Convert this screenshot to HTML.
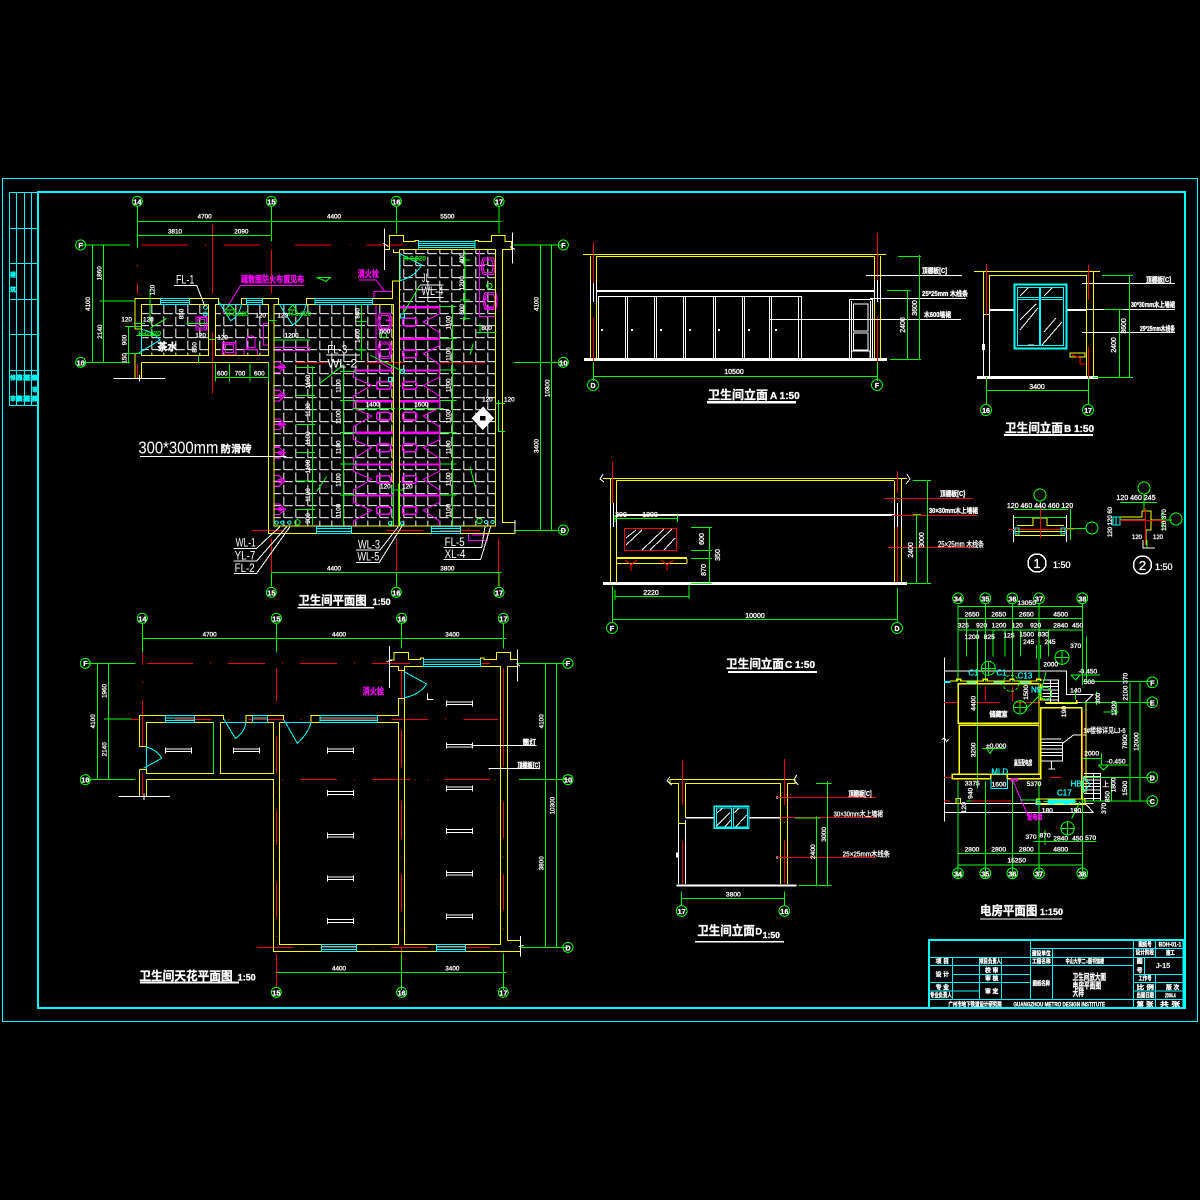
<!DOCTYPE html>
<html><head><meta charset="utf-8"><title>卫生间平面图</title>
<style>
html,body{margin:0;padding:0;background:#000}
svg{display:block}
text{font-family:"Liberation Sans","Noto Sans CJK SC",sans-serif;fill:#fff;stroke:#fff;stroke-width:.3}
.z text{stroke-width:.9}
.b{font-weight:bold}
.m{text-anchor:middle}
text.c{fill:#0ff;stroke:#0ff}
text.p{fill:#f0f;stroke:#f0f}
text.g{fill:#0f0;stroke:#0f0}
text.n{stroke:none}
</style></head><body>
<svg xmlns="http://www.w3.org/2000/svg" width="1200" height="1200" viewBox="0 0 1200 1200" fill="none" shape-rendering="crispEdges">
<defs>
<pattern id="tile" patternUnits="userSpaceOnUse" x="28" y="20" width="36" height="36"><path d="M1.500 0V27M1.500 27H28" stroke="#fff" stroke-width="2.800" fill="none"/></pattern>
<g id="stR" stroke="#f0f" stroke-width="3"><path d="M0 1.500H122" stroke-width="7"/><path d="M120 5V22L72 46 120 78V95"/><rect x="10" y="35" width="42" height="23" rx="8" stroke-width="5"/></g>
<g id="stL" stroke="#f0f" stroke-width="3"><path d="M0 1.500H121" stroke-width="7"/><path d="M1 5V22L55 46 1 78V95"/><rect x="70" y="35" width="42" height="23" rx="8" stroke-width="5"/></g>
<g id="uri" stroke="#f0f" stroke-width="3.500"><path d="M0 -16H16L26 -6Q36 0 26 6L16 16H0V-16ZM0 0H36"/><circle cx="18" cy="0" r="5"/></g>
<g id="sink" stroke="#f0f" stroke-width="3.500"><path d="M-20 -24H12Q22 0 12 26H-20Q-28 0 -20 -24Z"/><path d="M-14 -18H8Q16 0 8 20H-14Q-22 0 -14 -18ZM0 -4H16"/></g>
<g id="lt" stroke="#fff" stroke-width="3"><path d="M0 -9V9M78 -9V9M0 -4H78M0 4H78"/></g>
</defs>
<rect width="1200" height="1200" fill="#000"/>
<!-- frames -->
<rect x="2.500" y="178.500" width="1195" height="843" stroke="#0ff"/>
<rect x="38" y="192" width="1147" height="816" stroke="#0ff" stroke-width="2"/>
<path d="M9.500 192.500V405.500H38M16.500 192.500V405.500M24.500 192.500V405.500M31.500 192.500V405.500M9 192.500H38M9 228.500H38M9 263.500H38M9 299.500H38M9 334.500H38M9 370.500H38" stroke="#0ff"/>
<text x="10" y="277" font-size="6" class="c b">建</text><text x="10" y="292" font-size="6" class="c b">筑</text>
<text x="10" y="380" font-size="6" class="c b">修改</text><text x="10" y="401" font-size="6" class="c b">审核</text>
<text x="17" y="380" font-size="6" class="c b">日期</text><text x="17" y="401" font-size="6" class="c b">日期</text>
<text x="25" y="380" font-size="6" class="c b">签名</text><text x="25" y="401" font-size="6" class="c b">签名</text>
<text x="32" y="380" font-size="6" class="c b">修</text><text x="32" y="392" font-size="6" class="c b">审</text><text x="32" y="401" font-size="6" class="c b">核</text>

<!-- PLAN 1 -->
<g class="z" transform="translate(70,190) scale(.33333)" stroke-width="3">
<rect x="214" y="343" width="202" height="153" fill="url(#tile)"/>
<rect x="437" y="343" width="159" height="153" fill="url(#tile)"/>
<rect x="612" y="343" width="359" height="665" fill="url(#tile)"/>
<rect x="988" y="178" width="289" height="830" fill="url(#tile)"/>
<!-- red -->
<path stroke="#f00" d="M215 165H354M405 165H410M460 165H570M603 165H606M675 165H785M838 165H841M890 165H1000M676 517H770M890 517H1005M1110 517H1245M546 1022H645M950 1022H1058M1110 1022H1230M604 180V310M427 105V310M427 430V610M202 150V172M202 225V230M202 280V312M202 520V565M979 1045V1145M1285 1045V1190M604 1045V1190"/>
<!-- magenta -->
<use href="#stR" x="988" y="350"/><use href="#stR" x="988" y="445"/><use href="#stR" x="988" y="540"/><use href="#stR" x="988" y="632"/><use href="#stR" x="988" y="727"/><use href="#stR" x="988" y="822"/><use href="#stR" x="988" y="915"/>
<use href="#stL" x="850" y="540"/><use href="#stL" x="850" y="632"/><use href="#stL" x="850" y="727"/><use href="#stL" x="850" y="822"/><use href="#stL" x="850" y="915"/>
<use href="#uri" x="612" y="532"/><use href="#uri" x="612" y="617"/><use href="#uri" x="612" y="703"/><use href="#uri" x="612" y="788"/><use href="#uri" x="612" y="873"/><use href="#uri" x="612" y="958"/>
<g stroke="#f0f"><path d="M1228 178V380H1277M918 343H971M918 343V510L971 540"/>
<use href="#sink" x="1253" y="228" transform="translate(2504,0) scale(-1,1)"/>
<use href="#sink" x="1253" y="332" transform="translate(2510,0) scale(-1,1)"/>
<use href="#sink" x="948" y="395"/><use href="#sink" x="948" y="480"/>
<rect x="378" y="382" width="32" height="38" stroke-width="4"/><rect x="384" y="388" width="20" height="26"/>
<rect x="458" y="458" width="40" height="38" stroke-width="4"/><rect x="466" y="464" width="24" height="24"/>
<path d="M530 470V445Q545 430 555 445V472H530ZM522 478H563V496H522ZM580 400H596V465H580ZM612 472H718V482H612ZM912 305H968V325H912ZM1195 1030H1252V1052H1195ZM1205 1035H1245"/>
<path d="M460 370L512 286H704M865 270H918L945 305"/></g>
<text x="513" y="277" font-size="27" class="p b" textLength="190" lengthAdjust="spacingAndGlyphs">疏散图防火布置见布</text>
<text x="863" y="261" font-size="28" class="p b" textLength="64" lengthAdjust="spacingAndGlyphs">消火栓</text>
<!-- yellow walls -->
<path stroke="#ff0" d="M195 417V325H272V343H358V325H446V343M514 343V325H626V343M709 343V325H968V273H988V178M945 178H958V155H958V137H1000V155H1035V152H1045V178H1215V152H1225V155H1265V137H1305V155H1325V178H1298V997H1335M988 178H1277V1008H612V343H971V1008M988 178V1008M214 343H416V496H214ZM437 343H596V496H437ZM214 420V343M214 517H596M596 517V1030H1335M214 517V565M195 490V565M195 417H214M195 490H214M970 178V188H988"/>
<!-- cyan -->
<g stroke="#0ff">
<path d="M272 325H358M272 331H358M272 337H358M272 343H358M272 325V343M358 325V343"/>
<path d="M530 325H578M530 331H578M530 337H578M530 343H578M530 325V343M578 325V343"/>
<path d="M735 325H908M735 331H908M735 337H908M735 343H908M735 325V343M908 325V343"/>
<path d="M1045 155H1215M1045 161H1215M1045 167H1215M1045 173H1215M1045 155V178M1215 155V178"/>
<path d="M740 1010H845M740 1016H845M740 1024H845M740 1030H845M740 1010V1030M845 1010V1030"/>
<path d="M1085 1010H1172M1085 1016H1172M1085 1024H1172M1085 1030H1172M1085 1010V1030M1172 1010V1030"/>
<path d="M446 335L482 392Q505 380 515 343H446"/>
<path d="M628 343L668 405Q695 390 709 343H628"/>
<path d="M205 490L270 450Q250 425 214 418V490"/>
<path d="M988 190L1055 225Q1035 260 990 272V190"/>
<circle cx="620" cy="998" r="5"/><circle cx="637" cy="998" r="5"/><circle cx="658" cy="998" r="5"/><circle cx="960" cy="1000" r="5"/><circle cx="996" cy="1000" r="5"/><circle cx="1248" cy="996" r="5"/><circle cx="1268" cy="996" r="5"/><rect x="992" y="372" width="12" height="12"/><rect x="992" y="538" width="12" height="12"/><rect x="955" y="562" width="12" height="12"/><circle cx="406" cy="352" r="6"/><circle cx="406" cy="372" r="6"/>
</g>
<!-- green dims -->
<path stroke="#0f0" d="M202 50V172M604 50V155M979 50V130M1287 50V130M202 94H1295M202 136H604M34 165H180M34 517H180M68 165V517M100 165V517M88 333H195M1330 165H1480M1330 517H1480M1330 1022H1480M1412 165V1022M1445 165V1022M604 1147H1295M979 1147V1190M1287 1147V1190M604 1147V1190
M175 410V520M165 410H215M165 490H215M192 400H225M240 300V400M350 400H415M385 497V520M415 448H437M437 563H596M437 520V575M478 520V575M540 520V575M596 520V575M596 392H620M612 450H720
M727 530V1005M680 532H735M680 617H735M680 703H735M680 788H735M680 873H735M680 958H735M820 540V1005M810 545H860M810 632H860M810 727H860M810 822H860M810 915H860M875 343V510M860 395H890M860 480H890M848 655H975M985 655H1120M1147 345V1005M1110 350H1160M1110 445H1160M1110 540H1160M1110 632H1160M1110 727H1160M1110 822H1160M1110 915H1160M1185 185V390M1170 210H1200M1170 330H1200M1170 385H1200M1230 400V430M1220 427H1280M1285 630V725M1275 640H1305M1285 725H1305M964 900H1000M970 880V1005M985 880V1005M1050 285L1000 370M900 495L1000 545M820 525L750 580M1200 830L1215 890M1210 460L1200 495M770 860L740 905M290 385L240 415M200 437H270M1000 205H1048"/>
<g stroke="#0f0"><circle cx="202" cy="34" r="15"/><circle cx="604" cy="34" r="15"/><circle cx="979" cy="34" r="15"/><circle cx="1287" cy="34" r="15"/><circle cx="32" cy="165" r="15"/><circle cx="32" cy="517" r="15"/><circle cx="1480" cy="165" r="15"/><circle cx="1480" cy="517" r="15"/><circle cx="1480" cy="1020" r="15"/><circle cx="604" cy="1207" r="15"/><circle cx="979" cy="1207" r="15"/><circle cx="1287" cy="1207" r="15"/><circle cx="682" cy="997" r="8"/><circle cx="1228" cy="993" r="8"/><circle cx="942" cy="436" r="8"/><circle cx="1258" cy="288" r="8"/></g>
<path stroke="#fff" d="M943 115V240M1327 127V220M130 565H285M208 555V575M940 160L955 170M1320 170L1335 178M1335 990V1030"/>
<path d="M1240 650L1272 685 1238 720 1205 685Z" fill="#fff"/>
<path d="M1230 678H1246V692H1230Z" fill="#000"/>
<!-- labels -->
<g font-size="22" class="b">
<text x="202" y="43" class="m">14</text><text x="604" y="43" class="m">15</text><text x="979" y="43" class="m">16</text><text x="1287" y="43" class="m">17</text>
<text x="32" y="174" class="m">F</text><text x="32" y="526" class="m">10</text><text x="1480" y="174" class="m">F</text><text x="1480" y="526" class="m">10</text><text x="1480" y="1029" class="m">D</text>
<text x="604" y="1216" class="m">15</text><text x="979" y="1216" class="m">16</text><text x="1287" y="1216" class="m">17</text>
</g>
<g font-size="19" class="m">
<text x="404" y="86">4700</text><text x="792" y="86">4400</text><text x="1132" y="86">5500</text><text x="315" y="130">3810</text><text x="514" y="130">2090</text>
<text x="792" y="1141">4400</text><text x="1132" y="1141">3800</text><text x="457" y="557">600</text><text x="510" y="557">700</text><text x="568" y="557">600</text>
<text x="170" y="395">120</text><text x="235" y="395">120</text><text x="392" y="442">120</text><text x="458" y="448">120</text><text x="572" y="382">120</text><text x="638" y="382">120</text><text x="665" y="442">1200</text>
<text x="908" y="650">1400</text><text x="1054" y="650">1600</text><text x="946" y="895">120</text><text x="1012" y="895">120</text><text x="1252" y="635">120</text><text x="1318" y="635">120</text><text x="945" y="430">500</text><text x="1250" y="420">800</text>
</g>
<g font-size="19" class="m">
<text transform="translate(94,250) rotate(-90)">1860</text><text transform="translate(60,342) rotate(-90)">4100</text><text transform="translate(96,425) rotate(-90)">2140</text><text transform="translate(170,450) rotate(-90)">900</text><text transform="translate(170,505) rotate(-90)">150</text><text transform="translate(254,300) rotate(-90)">120</text><text transform="translate(340,372) rotate(-90)">850</text><text transform="translate(380,472) rotate(-90)">850</text>
<text transform="translate(1406,342) rotate(-90)">4100</text><text transform="translate(1406,768) rotate(-90)">3400</text><text transform="translate(1438,595) rotate(-90)">10300</text>
<text transform="translate(720,575) rotate(-90)">1100</text><text transform="translate(720,660) rotate(-90)">1100</text><text transform="translate(720,745) rotate(-90)">1100</text><text transform="translate(720,830) rotate(-90)">1100</text><text transform="translate(720,915) rotate(-90)">1100</text><text transform="translate(720,985) rotate(-90)">900</text>
<text transform="translate(812,588) rotate(-90)">1100</text><text transform="translate(812,682) rotate(-90)">1100</text><text transform="translate(812,772) rotate(-90)">1100</text><text transform="translate(812,870) rotate(-90)">1100</text><text transform="translate(812,962) rotate(-90)">1100</text><text transform="translate(868,370) rotate(-90)">800</text><text transform="translate(868,438) rotate(-90)">1400</text>
<text transform="translate(1142,398) rotate(-90)">1100</text><text transform="translate(1142,492) rotate(-90)">1100</text><text transform="translate(1142,586) rotate(-90)">1100</text><text transform="translate(1142,680) rotate(-90)">1100</text><text transform="translate(1142,772) rotate(-90)">1100</text><text transform="translate(1142,868) rotate(-90)">1100</text><text transform="translate(1142,962) rotate(-90)">1100</text>
<text transform="translate(1182,205) rotate(-90)">400</text><text transform="translate(1182,280) rotate(-90)">1200</text><text transform="translate(1182,358) rotate(-90)">800</text>
</g>
<text x="205" y="790" font-size="52" class="n" textLength="240" lengthAdjust="spacingAndGlyphs">300*300mm</text>
<text x="452" y="787" font-size="31" class="b">防滑砖</text>
<path stroke="#fff" d="M210 799H650"/>
<g font-size="36">
<text x="318" y="280" class="n" textLength="55" lengthAdjust="spacingAndGlyphs">FL-1</text>
<text x="772" y="490" class="n" textLength="60" lengthAdjust="spacingAndGlyphs">FL-3</text>
<text x="772" y="532" class="n" textLength="90" lengthAdjust="spacingAndGlyphs">WL-2</text>
<text x="1056" y="276" class="n" textLength="22" lengthAdjust="spacingAndGlyphs">JL</text>
<text x="1054" y="315" class="n" textLength="66" lengthAdjust="spacingAndGlyphs">WL-4</text>
<text x="497" y="1070" class="n" textLength="60" lengthAdjust="spacingAndGlyphs">WL-1</text>
<text x="494" y="1108" class="n" textLength="62" lengthAdjust="spacingAndGlyphs">YL-7</text>
<text x="494" y="1146" class="n" textLength="60" lengthAdjust="spacingAndGlyphs">FL-2</text>
<text x="864" y="1075" class="n" textLength="66" lengthAdjust="spacingAndGlyphs">WL-3</text>
<text x="862" y="1112" class="n" textLength="66" lengthAdjust="spacingAndGlyphs">WL-5</text>
<text x="1124" y="1068" class="n" textLength="60" lengthAdjust="spacingAndGlyphs">FL-5</text>
<text x="1124" y="1104" class="n" textLength="62" lengthAdjust="spacingAndGlyphs">XL-4</text>
</g>
<path stroke="#fff" d="M312 286H380L405 350M768 495H870M1050 285H1120M1045 322H1120M490 1075H560L630 1010M490 1113H560L650 1010M492 1150H560L660 1010M858 1080H930L985 1010M858 1117H928L995 1010M1120 1072H1235L1245 1010M1120 1108H1232L1262 1010"/>
<text x="262" y="482" font-size="30" class="b">茶水</text>
<text x="205" y="437" font-size="19" class="g">H-0.020</text>
<text x="655" y="378" font-size="19" class="g">H-0.020</text>
<text x="468" y="378" font-size="19" class="g">H-0.020</text>
<text x="1000" y="212" font-size="19" class="g">H-0.020</text>
<path stroke="#0f0" d="M740 262H782L768 274ZM465 360H495L480 345ZM655 360H680L668 345Z"/>
<text x="685" y="1243" font-size="36" class="b" textLength="205" lengthAdjust="spacingAndGlyphs">卫生间平面图</text>
<text x="908" y="1245" font-size="27" class="b">1:50</text>
<path stroke="#fff" stroke-width="5" d="M683 1253H912"/>
</g>

<!-- CEILING -->
<g class="z" transform="translate(70,600) scale(.33333)" stroke-width="3">
<path stroke="#f00" d="M231 190H369M420 190H423M474 190H585M636 190H639M690 190H801M852 190H855M906 190H1020M1235 190H1260M183 358H205M262 358H265M315 358H425M475 358H478M535 358H640M692 358H695M750 358H925M965 358H1074M1125 358H1128M1180 358H1284M636 538H639M690 538H801M852 538H855M906 538H1020M1072 538H1075M1125 538H1260M561 1042H670M694 1042H697M748 1042H860M908 1042H911M963 1042H1074M1100 1042H1260M217 160V195M217 245V249M217 303V440M217 520V585M619 205V305M619 410V520M619 574V577M619 628V735M619 790V792M619 845V955M619 1008V1011M619 1062V1160M995 205V295M995 390V500M995 550V552M995 605V716M995 770V772M995 822V932M995 985V988M995 1040V1160M1300 205V500M1300 605V716M1300 770V772M1300 822V932M1300 985V988"/>
<path stroke="#ff0" d="M229 440V367H431M229 440H208V346H286M373 346H460V360M373 346V367M431 367V520H229V440M451 367V520H611V367H451M528 367V346H640V360M528 346V367M629 367H986V1033H629V367M723 367V346H986V295H1003V215M1003 200H1292V1033H1003V200M959 180H972V157H1016V178H1052V174H1060V200M1232 200V174H1242V178H1280V157H1322V178H1342M959 200H985V212H1003M1312 1021H1352M1312 200H1342M1312 200V1021M208 508V590M208 508H229V520M229 538H611V1054H1352M229 538V590"/>
<path stroke="#0f0" d="M431 367V520M217 70V158M619 70V158M995 70V145M1300 70V145M217 115H1310M46 190H195M46 538H195M82 190V538M115 190V538M102 357H185M1340 190H1494M1347 538H1494M1350 1042H1494M1427 190V1042M1460 190V1042M619 1117H1310M995 1060V1170M1300 1060V1170"/>
<g stroke="#0ff">
<path d="M287 346H373M287 354H373M287 361H373M287 367H373M287 346V367M373 346V367M547 346H593M547 354H593M547 367H593M547 346V367M593 346V367"/>
<path d="M750 346H923M750 354H923M750 361H923M750 367H923M750 346V367M923 346V367"/>
<path d="M1060 178H1232M1060 186H1232M1060 193H1232M1060 200H1232M1060 178V200M1232 178V200"/>
<path d="M754 1033H860M754 1040H860M754 1048H860M754 1054H860M754 1033V1054M860 1033V1054M1099 1033H1187M1099 1040H1187M1099 1048H1187M1099 1054H1187M1099 1033V1054M1187 1033V1054"/>
<path d="M462 358L496 415Q522 400 528 367H462M642 360L682 430Q715 400 723 367H642M220 505L275 475Q262 450 229 441V505M1003 215L1070 252Q1048 285 1003 293V215"/>
</g>
<path stroke="#fff" d="M958 138V264M1342 148V245M145 589H300M222 580V600M950 185L968 180M1340 190L1350 198M1352 1008V1070M1347 1040L1360 1036M1205 436H1400M1255 506H1408M1258 504V508M1072 280V298H1090"/>
<use href="#lt" x="286" y="451"/><use href="#lt" x="490" y="451"/>
<use href="#lt" x="772" y="451"/><use href="#lt" x="772" y="579"/><use href="#lt" x="772" y="707"/><use href="#lt" x="772" y="835"/><use href="#lt" x="772" y="963"/>
<use href="#lt" x="1129" y="310"/><use href="#lt" x="1129" y="437"/><use href="#lt" x="1129" y="565"/><use href="#lt" x="1129" y="693"/><use href="#lt" x="1129" y="821"/><use href="#lt" x="1129" y="949"/>
<g stroke="#0f0"><circle cx="217" cy="55" r="15"/><circle cx="619" cy="55" r="15"/><circle cx="995" cy="55" r="15"/><circle cx="1300" cy="55" r="15"/><circle cx="46" cy="190" r="15"/><circle cx="46" cy="539" r="15"/><circle cx="1494" cy="190" r="15"/><circle cx="1494" cy="539" r="15"/><circle cx="1494" cy="1042" r="15"/><circle cx="619" cy="1177" r="15"/><circle cx="995" cy="1177" r="15"/><circle cx="1300" cy="1177" r="15"/></g>
<g font-size="22" class="b m">
<text x="217" y="64">14</text><text x="619" y="64">15</text><text x="995" y="64">16</text><text x="1300" y="64">17</text><text x="46" y="198">F</text><text x="46" y="548">10</text><text x="1494" y="198">F</text><text x="1494" y="548">10</text><text x="1494" y="1051">D</text><text x="619" y="1186">15</text><text x="995" y="1186">16</text><text x="1300" y="1186">17</text>
</g>
<g font-size="19" class="m">
<text x="419" y="110">4700</text><text x="807" y="110">4400</text><text x="1147" y="110">3400</text><text x="807" y="1112">4400</text><text x="1147" y="1112">3400</text>
<text transform="translate(109,273) rotate(-90)">1960</text><text transform="translate(75,364) rotate(-90)">4100</text><text transform="translate(109,448) rotate(-90)">2140</text><text transform="translate(1421,364) rotate(-90)">4100</text><text transform="translate(1421,790) rotate(-90)">3800</text><text transform="translate(1454,617) rotate(-90)">10300</text>
</g>
<text x="878" y="284" font-size="27" class="p b" textLength="64" lengthAdjust="spacingAndGlyphs">消火栓</text>
<text x="1358" y="434" font-size="21" class="b" textLength="40" lengthAdjust="spacingAndGlyphs">筒灯</text>
<text x="1342" y="503" font-size="21" class="b" textLength="68" lengthAdjust="spacingAndGlyphs">顶棚板[C]</text>
<text x="208" y="1140" font-size="36" class="b" textLength="280" lengthAdjust="spacingAndGlyphs">卫生间天花平面图</text>
<text x="503" y="1141" font-size="27" class="b">1:50</text>
<path stroke="#fff" stroke-width="6" d="M210 1148H507"/>
</g>

<!-- ELEVATION A -->
<g stroke-width="1">
<path stroke="#ff0" d="M583 254.500H886M596 256.500H874M590.500 256V280M596.500 256V280M590.500 302V358M596.500 302V358M874.500 256V280M880.500 256V280M874.500 302V358M880.500 302V358"/>
<path stroke="#fff" d="M590.500 280V302M593.500 280V302M596.500 280V302M874.500 280V302M877.500 280V302M880.500 280V302M598.500 296V359M625.500 296V359M627.500 296V359M654.500 296V359M656.500 296V359M683.500 296V359M685.500 296V359M713.500 296V359M715.500 296V359M742.500 296V359M744.500 296V359M769.500 296V359M771.500 296V359M798.500 296V359M801.500 296V359M598 296.500H801M849.500 299V359M872.500 299V359M851.500 301V359M870.500 301V359M849 299.500H872M853.500 304H868V331H853.500ZM853.500 333H868V350H853.500ZM851 351H870V359"/>
<rect x="584" y="358" width="303" height="3" fill="#fff"/>
<rect x="596" y="290" width="278" height="2" fill="#fff"/>
<path fill="#fff" d="M601 329h2v2h-2zM631 329h2v2h-2zM660 329h2v2h-2zM689 329h2v2h-2zM718 329h2v2h-2zM748 329h2v2h-2zM775 329h2v2h-2z"/>
<path stroke="#f00" d="M593.500 242V283M593.500 318V361M877.500 233V280M877.500 316V363"/>
<path stroke="#fff" d="M866 275.500H962M870 298.500H966M770 319.500H961"/>
<path stroke="#0f0" d="M593.500 362V381M877.500 362V381M593 376.500H878M898 256.500H921M887 290.500H910M890 359.500H921M919.500 255V360M907.500 290V360"/>
<circle cx="593" cy="385" r="5.500" stroke="#0f0"/><circle cx="877" cy="385" r="5.500" stroke="#0f0"/>
<text x="593" y="388" font-size="7" class="m b">D</text><text x="877" y="388" font-size="7" class="m b">F</text>
<text x="734" y="374" font-size="7" class="m">10500</text>
<text transform="translate(917,308) rotate(-90)" font-size="7" class="m">3600</text><text transform="translate(905,325) rotate(-90)" font-size="7" class="m">2400</text>
<text x="922" y="273" font-size="7" class="b" textLength="25" lengthAdjust="spacingAndGlyphs">顶棚板[C]</text>
<text x="922" y="296" font-size="7" class="b" textLength="46" lengthAdjust="spacingAndGlyphs">25*25mm 木线条</text>
<text x="924" y="317" font-size="7" class="b" textLength="27" lengthAdjust="spacingAndGlyphs">木600墙裙</text>
<text x="708" y="399" font-size="12" class="b" textLength="60" lengthAdjust="spacingAndGlyphs">卫生间立面</text><text x="770" y="399" font-size="10" class="b">A 1:50</text>
<rect x="707" y="401" width="89" height="2.500" fill="#fff"/>
</g>

<!-- ELEVATION B -->
<g stroke-width="1">
<path stroke="#ff0" d="M974 271.500H1100M989 275.500H1086M983.500 272V314M989.500 275V314M983 314.500H989M1086.500 275V377M1093.500 272V377"/>
<path stroke="#fff" d="M983.500 314V377M989.500 310V377M1082 283.500H1175M1082 309.500H1175M1082 332.500H1175"/>
<rect x="977" y="376" width="121" height="3" fill="#fff"/>
<rect x="989" y="309" width="25" height="2" fill="#fff"/><rect x="1067" y="309" width="19" height="2" fill="#fff"/>
<rect x="982" y="344" width="3" height="6" fill="#fff"/>
<g stroke="#0ff"><rect x="1014.500" y="284.500" width="52" height="64" stroke-width="2"/><rect x="1017.500" y="287.500" width="46" height="58"/><path d="M1040.500 287V346M1017 297.500H1064M1017 299.500H1064M1039.500 287V346"/></g>
<path stroke="#fff" d="M1020 296L1028 288M1044 296L1052 288M1020 330L1038 308M1020 320L1036 304M1042 345L1062 322M1044 332L1056 318M1028 345H1034"/>
<rect x="1070" y="353" width="15" height="4" stroke="#ff0"/>
<path stroke="#f00" d="M986.500 264V315M986.500 377V390M1088.500 265V300M1088.500 347V390M1072 355L1080 358V364H1085"/>
<path stroke="#0f0" d="M986.500 378V405M1088.500 378V405M986 390.500H1089M1102 275.500H1133M1104 309.500H1123M1093 377.500H1133M1129.500 275V378M1119.500 309V378"/>
<circle cx="986" cy="410" r="5.500" stroke="#0f0"/><circle cx="1088" cy="410" r="5.500" stroke="#0f0"/>
<text x="986" y="413" font-size="7" class="m b">16</text><text x="1088" y="413" font-size="7" class="m b">17</text>
<text x="1037" y="389" font-size="7" class="m">3400</text>
<text transform="translate(1126,326) rotate(-90)" font-size="7" class="m">3600</text><text transform="translate(1116,345) rotate(-90)" font-size="7" class="m">2400</text>
<text x="1146" y="282" font-size="7" class="b" textLength="25" lengthAdjust="spacingAndGlyphs">顶棚板[C]</text>
<text x="1131" y="307" font-size="7" class="b" textLength="44" lengthAdjust="spacingAndGlyphs">30*30mm木上墙裙</text>
<text x="1140" y="331" font-size="7" class="b" textLength="35" lengthAdjust="spacingAndGlyphs">25*25mm木线条</text>
<text x="1005" y="432" font-size="12" class="b" textLength="58" lengthAdjust="spacingAndGlyphs">卫生间立面</text><text x="1064" y="432" font-size="10" class="b">B 1:50</text>
<rect x="1004" y="434" width="89" height="2" fill="#fff"/>
</g>

<!-- ELEVATION C -->
<g stroke-width="1">
<path stroke="#ff0" d="M603 478.500H907M616 480.500H894M610.500 478V503M616.500 481V503M610.500 527V583M616.500 527V583M894.500 481V503M901.500 478V503M894.500 527V583M901.500 527V583"/>
<path stroke="#fff" d="M610.500 503V527M613.500 503V527M616.500 503V527M894.500 503V527M897.500 503V527M901.500 503V527M603 474L600 479 604 482M907 474L910 479 906 484"/>
<rect x="603" y="582" width="304" height="3" fill="#fff"/><rect x="616" y="514" width="278" height="2" fill="#fff"/>
<rect x="624.500" y="528.500" width="52" height="22" stroke="#f00"/>
<path stroke="#fff" d="M626 545L642 530M626 538L636 530M642 550L664 529M650 550L672 529M664 550L675 538"/>
<rect x="617" y="557" width="70" height="2" fill="#ff0"/><path stroke="#ff0" d="M617 563.500H687M687 559V563"/>
<path stroke="#f00" d="M625 560L631 565 637 560M631 565V571M661 560L667 565 673 560M667 565V571M612.500 462V503M897.500 471V493M897.500 527V582"/>
<path stroke="#f00" d="M885 498.500H973M892 515.500H977M888 547.500H974"/>
<path stroke="#0f0" d="M612.500 586V622M897.500 588V622M612 619.500H898M615 596.500H689M689 585V599M615 590V600M615 518.500H678M615 515V522M677.500 515V522M709.500 527V584M691 527.500H712M691 550.500H712M691 558.500H712M691 583.500H712M916.500 514V584M927.500 480V584M913 480.500H931M913 514.500H921M907 583.500H931"/>
<circle cx="612" cy="628" r="5.500" stroke="#0f0"/><circle cx="897" cy="628" r="5.500" stroke="#0f0"/>
<text x="612" y="631" font-size="7" class="m b">F</text><text x="897" y="631" font-size="7" class="m b">D</text>
<text x="755" y="618" font-size="7" class="m">10000</text><text x="651" y="595" font-size="7" class="m">2220</text><text x="650" y="517" font-size="7" class="m">1800</text><text x="621" y="517" font-size="7" class="m">300</text>
<text transform="translate(704,539) rotate(-90)" font-size="7" class="m">600</text><text transform="translate(720,555) rotate(-90)" font-size="7" class="m">350</text><text transform="translate(706,570) rotate(-90)" font-size="7" class="m">870</text>
<text transform="translate(924,540) rotate(-90)" font-size="7" class="m">3000</text><text transform="translate(913,550) rotate(-90)" font-size="7" class="m">2400</text>
<text x="940" y="496" font-size="7" class="b" textLength="25" lengthAdjust="spacingAndGlyphs">顶棚板[C]</text>
<text x="929" y="513" font-size="7" class="b" textLength="49" lengthAdjust="spacingAndGlyphs">30×30mm木上墙裙</text>
<text x="938" y="547" font-size="8" textLength="46" lengthAdjust="spacingAndGlyphs">25×25mm 木线条</text>
<text x="726" y="668" font-size="12" class="b" textLength="58" lengthAdjust="spacingAndGlyphs">卫生间立面</text><text x="785" y="668" font-size="10" class="b">C  1:50</text>
<rect x="728" y="671" width="89" height="2" fill="#fff"/>
</g>

<!-- DETAILS -->
<g stroke-width="1">
<path stroke="#ff0" d="M1015 531.500H1065M1015 535.500H1065M1017 525.500H1033V518H1047V525.500H1064"/>
<path stroke="#fff" d="M1013.500 515V542M1066.500 515V542"/>
<path stroke="#0f0" d="M1040.500 502V518M1014 509.500H1068M1014 517.500H1066M1070.500 509V540M1066 528.500H1086"/>
<path stroke="#f00" d="M1040.500 503V538M1009 529.500H1074"/>
<path stroke="#0ff" d="M1015 528h4v6h-4zM1061 528h4v6h-4z"/>
<circle cx="1040" cy="495" r="6" stroke="#0f0"/><circle cx="1092" cy="528" r="6" stroke="#0f0"/>
<text x="1040" y="508" font-size="7" class="m">120 460 440 460 120</text>
<circle cx="1037" cy="563" r="9" stroke="#fff" stroke-width="1.500"/><text x="1037" y="568" font-size="13" class="m">1</text><text x="1053" y="568" font-size="9">1:50</text>
<path stroke="#ff0" d="M1120 517H1142V511M1142 511H1151V530H1146V545M1151 520H1163M1146 520H1120"/>
<path stroke="#0ff" d="M1116 517h4v8h-4zM1113 517h3v8h-3z"/>
<path stroke="#0f0" d="M1144 494V510M1120 502.500H1157M1163 512V530M1163 520H1172M1147 540V548"/>
<path stroke="#f00" d="M1145.500 508V545M1120 520.500H1165"/>
<path stroke="#fff" d="M1143 540V548H1155"/>
<circle cx="1144" cy="488" r="6" stroke="#0f0"/><circle cx="1176" cy="519" r="6" stroke="#0f0"/>
<text x="1136" y="500" font-size="7" class="m">120 460 245</text>
<text x="1137" y="539" font-size="6" class="m">120</text><text x="1158" y="539" font-size="6" class="m">120</text>
<text transform="translate(1112,522) rotate(-90)" font-size="6" class="m">120 120 60</text>
<text transform="translate(1166,520) rotate(-90)" font-size="6" class="m">120 370</text>
<circle cx="1142.500" cy="565" r="9" stroke="#fff" stroke-width="1.500"/><text x="1142.500" y="570" font-size="13" class="m">2</text><text x="1155" y="570" font-size="9">1:50</text>
</g>

<!-- ELEVATION D -->
<g class="z" transform="translate(650,740) scale(.33333)" stroke-width="3">
<path stroke="#ff0" d="M60 118H435V130H413V432M60 118V130H85V250H106M106 130H392V432M106 130V232"/>
<path stroke="#fff" d="M85 250V432M106 240V432M60 110L52 122 65 135M440 105L432 120 445 135"/>
<rect x="80" y="433" width="360" height="7" fill="#fff"/>
<rect x="106" y="231" width="87" height="5" fill="#fff"/><rect x="296" y="231" width="96" height="5" fill="#fff"/><rect x="78" y="338" width="6" height="14" fill="#fff"/><rect x="378" y="170" width="6" height="6" fill="#fff"/><rect x="378" y="349" width="6" height="6" fill="#fff"/>
<g stroke="#0ff"><rect x="193" y="199" width="104" height="66" stroke-width="4"/><rect x="199" y="204" width="45" height="57"/><rect x="250" y="204" width="42" height="57"/></g>
<path stroke="#fff" d="M200 220L218 204M200 258L240 218M225 260L243 240M250 220L268 204M258 260L290 225"/>
<path stroke="#f00" d="M97 60V195M97 305V430M403 57V195M403 300V430M403 245V249M380 172H678M392 232H680M380 352H678"/>
<path stroke="#0f0" d="M532 125V440M500 230V440M498 130H545M435 234H512M445 436H545M95 475H405M95 455V495M403 455V495"/>
<circle cx="95" cy="513" r="16" stroke="#0f0"/><circle cx="403" cy="513" r="16" stroke="#0f0"/>
<text x="95" y="522" font-size="22" class="m b">17</text><text x="403" y="522" font-size="22" class="m b">16</text>
<text x="250" y="470" font-size="20" class="m">3800</text>
<text transform="translate(528,283) rotate(-90)" font-size="20" class="m">3000</text><text transform="translate(495,335) rotate(-90)" font-size="20" class="m">2400</text>
<text x="595" y="168" font-size="21" class="b" textLength="70" lengthAdjust="spacingAndGlyphs">顶棚板[C]</text>
<text x="551" y="229" font-size="23" textLength="148" lengthAdjust="spacingAndGlyphs">30×30mm木上墙裙</text>
<text x="578" y="349" font-size="23" textLength="142" lengthAdjust="spacingAndGlyphs">25×25mm木线条</text>
<text x="142" y="585" font-size="38" class="b" textLength="172" lengthAdjust="spacingAndGlyphs">卫生间立面</text>
<text x="316" y="583" font-size="28" class="b">D</text><text x="338" y="594" font-size="26" class="b">1:50</text>
<rect x="135" y="603" width="267" height="5" fill="#fff"/>
</g>

<!-- POWER ROOM -->
<g class="z" transform="translate(930,585) scale(.33333)" stroke-width="3">
<path stroke="#fff" d="M43 217V710M42 258H410V328H490L465 352H345M43 655H490M43 682H490M465 655L490 682M35 465L43 458 50 470 56 463M332 462L395 462M332 472H398M332 482H398M332 492H398M332 502H398M332 512H398M332 528H398M398 472V530M398 475L430 450H470M365 530V552H355H375"/>
<path stroke="#fff" d="M337 285H385V355M337 295H385M337 305H385M337 315H385M337 325H385M337 335H385M337 345H385M362 285V355M462 565H512V650M462 575H512M462 585H512M462 595H512M462 605H512M462 615H512M462 625H512M462 640H512M490 565V650"/>
<path stroke="#f00" d="M84 215V275M84 305V350M84 580V650M84 685V735M166 215V275M166 305V350M166 685V735M247 215V275M247 305V350M247 685V735M327 215V275M327 350V365M327 690V735M457 215V270M457 380V640M457 700V740M42 352H85M130 352H210M260 352H330M42 577H70M360 577H395M42 648H60M120 648H245"/>
<path stroke="#0f0" d="M84 60V290M110 100V215M142 135V290M166 55V290M189 135V215M225 135V215M247 55V290M272 135V215M327 55V290M355 135V215M320 180V220M332 180V220M457 55V300M84 65H458M84 100H458M84 135H458M84 805H458M84 840H458M84 590V880M142 296V610M166 590V880M247 590V880M327 590V880M457 590V880M345 735V780M310 770H500M457 290H470M470 155V290M462 290H667M462 352H667M520 381H565M560 350V390M455 577H667M455 648H667M600 292V648M630 292V648M500 320V360M545 577V648M458 520H515M515 505V540M455 352H470M437 320V345M400 352H437M110 648H125M340 650H430M142 415H165M135 415V420M352 650H385M415 650H440"/>
<!-- windows -->
<rect x="42" y="288" width="20" height="6" fill="#0ff"/><rect x="110" y="288" width="32" height="6" fill="#0ff"/><rect x="190" y="288" width="30" height="6" fill="#0ff"/><rect x="270" y="288" width="32" height="6" fill="#0ff"/><rect x="352" y="642" width="84" height="13" fill="#0ff"/>
<path stroke="#ff0" stroke-width="3.600" d="M60 288H80V283H92V288H142V296M142 288H160V283H172V288H222V296M222 288H240V283H252V288H302V296M302 288H320V283H332V288M85 296H327V415H85ZM88 421H327V568H88ZM332 368H455V640M332 368V578M468 352V625M67 568H182V581H67ZM232 568H332V581H232ZM320 642H465V658H320ZM347 355H440V345M332 296V345H350"/>
<path stroke="#ff0" d="M78 640H92V655H78Z"/>
<path stroke="#f0f" d="M248 585L295 695M243 580H262V588H243Z"/>
<text x="292" y="704" font-size="22" class="p b" textLength="45" lengthAdjust="spacingAndGlyphs">配电柜</text>
<g stroke="#0f0"><circle cx="175" cy="250" r="21"/><circle cx="396" cy="217" r="21"/><circle cx="270" cy="367" r="20"/><circle cx="413" cy="730" r="20"/><circle cx="243" cy="295" r="24" stroke-dasharray="9 5"/><circle cx="347" cy="325" r="18"/><path d="M155 250H195M376 217H416M250 367H290M393 730H433M175 230V270M396 197V237M270 347V387M413 710V750M348 262L330 330M285 375L330 330M425 700L450 650"/>
<circle cx="84" cy="40" r="16"/><circle cx="166" cy="40" r="16"/><circle cx="247" cy="40" r="16"/><circle cx="327" cy="40" r="16"/><circle cx="457" cy="40" r="16"/>
<circle cx="84" cy="865" r="16"/><circle cx="166" cy="865" r="16"/><circle cx="247" cy="865" r="16"/><circle cx="327" cy="865" r="16"/><circle cx="457" cy="865" r="16"/>
<circle cx="667" cy="292" r="16"/><circle cx="667" cy="352" r="16"/><circle cx="667" cy="577" r="16"/><circle cx="667" cy="648" r="16"/></g>
<path stroke="#0ff" d="M460 575L480 598 460 622ZM183 581V610H232V581M318 650h12v8h-12zM360 645h12v12h-12zM403 645h12v12h-12z"/>
<path stroke="#0f0" d="M157 490H227M170 490L180 505 190 490M423 270H510M423 270L437 285 450 270M505 540H595M505 540L520 555 535 540M270 645H330"/>
<g font-size="22" class="b m"><text x="84" y="49">34</text><text x="166" y="49">35</text><text x="247" y="49">36</text><text x="327" y="49">37</text><text x="457" y="49">38</text><text x="84" y="874">34</text><text x="166" y="874">35</text><text x="247" y="874">36</text><text x="327" y="874">37</text><text x="457" y="874">38</text><text x="667" y="301">F</text><text x="667" y="361">E</text><text x="667" y="586">D</text><text x="667" y="657">C</text></g>
<g font-size="20" class="m">
<text x="290" y="60">13050</text><text x="126" y="94">2650</text><text x="206" y="94">2650</text><text x="289" y="94">2650</text><text x="392" y="94">4500</text>
<text x="100" y="128">325</text><text x="155" y="128">920</text><text x="207" y="128">1200</text><text x="262" y="128">120</text><text x="317" y="128">920</text><text x="392" y="128">2840</text><text x="443" y="128">450</text>
<text x="126" y="162">1200</text><text x="178" y="162">825</text><text x="237" y="157">125</text><text x="290" y="155">1500</text><text x="340" y="155">830</text><text x="296" y="177">245</text><text x="360" y="177">245</text><text x="437" y="189">370</text>
<text x="362" y="245">2000</text><text x="437" y="323">140</text><text x="478" y="297">500</text><text x="485" y="512">2000</text>
<text x="127" y="602">3375</text><text x="207" y="605">1600</text><text x="312" y="603">5370</text><text x="352" y="682">180</text><text x="437" y="682">190</text>
<text x="303" y="762">370</text><text x="345" y="757">870</text><text x="392" y="767">2840</text><text x="443" y="767">450</text><text x="482" y="765">570</text>
<text x="126" y="800">2800</text><text x="206" y="800">2800</text><text x="289" y="800">2800</text><text x="392" y="800">4800</text><text x="260" y="833">15250</text>
</g>
<g font-size="20" class="m">
<text transform="translate(136,355) rotate(-90)">4400</text><text transform="translate(136,495) rotate(-90)">3200</text><text transform="translate(294,322) rotate(-90)">1500</text><text transform="translate(408,380) rotate(-90)">190</text><text transform="translate(128,625) rotate(-90)">940</text><text transform="translate(108,668) rotate(-90)">120</text>
<text transform="translate(592,305) rotate(-90)">2100 370</text><text transform="translate(591,470) rotate(-90)">7800</text><text transform="translate(625,470) rotate(-90)">12000</text><text transform="translate(591,610) rotate(-90)">1500</text><text transform="translate(556,600) rotate(-90)">1800</text><text transform="translate(510,340) rotate(-90)">300</text><text transform="translate(558,370) rotate(-90)">1200</text><text transform="translate(539,635) rotate(-90)">850</text><text transform="translate(528,670) rotate(-90)">370</text>
</g>
<g font-size="24"><text x="115" y="272" class="c">C1</text><text x="199" y="272" class="c">C1</text><text x="263" y="281" class="c">C13</text><text x="303" y="323" class="c">N9</text><text x="184" y="568" class="c">MLD</text><text x="422" y="605" class="c">HB</text><text x="381" y="632" class="c">C17</text></g>
<text x="178" y="394" font-size="20" class="b" textLength="55" lengthAdjust="spacingAndGlyphs">储藏室</text>
<text x="252" y="540" font-size="20" class="b" textLength="55" lengthAdjust="spacingAndGlyphs">高压配电房</text>
<text x="168" y="489" font-size="20">±0.000</text><text x="445" y="265" font-size="20">-0.450</text><text x="530" y="535" font-size="20">-0.450</text>
<text x="460" y="444" font-size="23" textLength="127" lengthAdjust="spacingAndGlyphs">1#楼梯详见LJ-6</text>
<text x="517" y="605" font-size="20">上</text>
<text x="150" y="990" font-size="38" class="b" textLength="172" lengthAdjust="spacingAndGlyphs">电房平面图</text><text x="330" y="990" font-size="27" class="b">1:150</text>
<rect x="150" y="1000" width="246" height="3" fill="#fff"/>
</g>

<!-- TITLE BLOCK -->
<g class="z" transform="translate(920,930) scale(.33333)" stroke-width="3.400">
<rect x="27" y="30" width="763" height="204" stroke="#0ff" stroke-width="6"/>
<path stroke="#0ff" d="M331 30V208M640 30V234M706 30V82M706 133V234M790 30V234M331 55H790M27 82H790M397 55V208M27 106H640M97 82V208M178 82V208M245 82V208M97 133H331M27 157H331M27 183H178M27 208H790M673 82V133M640 133H790M640 157H790M640 183H790"/>
<g class="b" font-size="18">
<text x="655" y="49" textLength="40" lengthAdjust="spacingAndGlyphs">图纸号</text><text x="716" y="50" textLength="68" lengthAdjust="spacingAndGlyphs">BDH-01-1</text>
<text x="336" y="76" textLength="56" lengthAdjust="spacingAndGlyphs">建设单位</text><text x="647" y="74" textLength="55" lengthAdjust="spacingAndGlyphs">设计阶段</text><text x="738" y="75" textLength="26" lengthAdjust="spacingAndGlyphs">施工</text>
<text x="47" y="100" textLength="40" lengthAdjust="spacingAndGlyphs">项 目</text><text x="178" y="100" textLength="65" lengthAdjust="spacingAndGlyphs">项目负责人</text>
<text x="336" y="100" textLength="56" lengthAdjust="spacingAndGlyphs">工程名称</text><text x="437" y="101" textLength="115" lengthAdjust="spacingAndGlyphs">中山大学二○图书馆楼</text>
<text x="650" y="100">图</text><text x="650" y="127">号</text>
<text x="47" y="140" textLength="40" lengthAdjust="spacingAndGlyphs">设 计</text><text x="195" y="127" textLength="40" lengthAdjust="spacingAndGlyphs">校 审</text><text x="195" y="151" textLength="40" lengthAdjust="spacingAndGlyphs">审 核</text><text x="195" y="190" textLength="40" lengthAdjust="spacingAndGlyphs">审 定</text>
<text x="338" y="167" textLength="52" lengthAdjust="spacingAndGlyphs">图纸名称</text>
<text x="47" y="178" textLength="40" lengthAdjust="spacingAndGlyphs">专 业</text><text x="30" y="202" textLength="65" lengthAdjust="spacingAndGlyphs">专业负责人</text>
<text x="655" y="152" textLength="40" lengthAdjust="spacingAndGlyphs">工作号</text><text x="650" y="178" textLength="52" lengthAdjust="spacingAndGlyphs">比 例</text><text x="738" y="178" textLength="40" lengthAdjust="spacingAndGlyphs">版 次</text><text x="650" y="203" textLength="52" lengthAdjust="spacingAndGlyphs">出图日期</text><text x="735" y="203" textLength="32" lengthAdjust="spacingAndGlyphs">2004.4</text>
<text x="650" y="229" textLength="50" lengthAdjust="spacingAndGlyphs">第 张</text><text x="720" y="229" textLength="60" lengthAdjust="spacingAndGlyphs">共 张</text>
<text x="85" y="229" textLength="160" lengthAdjust="spacingAndGlyphs">广州市地下铁道设计研究院</text>
<text x="280" y="229" textLength="275" lengthAdjust="spacingAndGlyphs">GUANGZHOU METRO DESIGN INSTITUTE</text>
</g>
<text x="708" y="114" font-size="22">J-15</text>
<text x="458" y="150" font-size="26" class="b" textLength="100" lengthAdjust="spacingAndGlyphs">卫生间放大图</text>
<text x="458" y="175" font-size="26" class="b" textLength="85" lengthAdjust="spacingAndGlyphs">电房平面图</text>
<text x="458" y="198" font-size="26" class="b" textLength="34" lengthAdjust="spacingAndGlyphs">大样</text>
</g>
</svg>
</body></html>
